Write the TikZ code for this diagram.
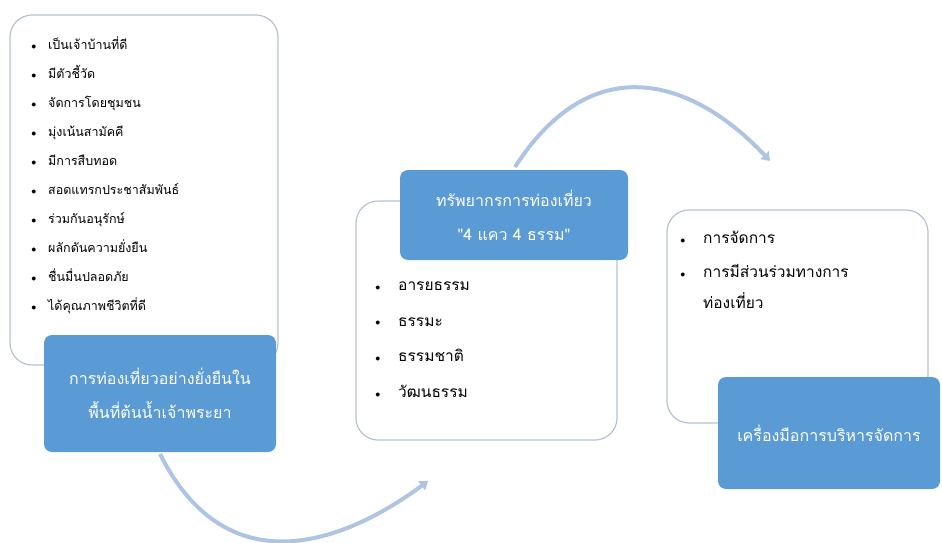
\documentclass[tikz,border=0pt]{standalone}
\usepackage{fontspec}
\newfontfamily\thai[Script=Thai]{Loma}
\usetikzlibrary{positioning, arrows.meta}
\definecolor{boxblue}{HTML}{5B9BD5}
\definecolor{flowblue}{HTML}{AEC4E3}
\definecolor{edgegray}{HTML}{B6C2D2}

\tikzset{
    panel/.style={draw=edgegray, line width=1.2pt, fill=white, rounded corners=22pt},
    titlebox/.style={fill=boxblue, rounded corners=8pt, text=white, align=center,
        font=\thai\fontsize{16}{34}\selectfont},
    itemtext/.style={anchor=west, inner sep=0pt, text height=0.75em, text depth=0.25em},
    dot/.style={label={[label distance=#1, font=\normalsize]left:$\bullet$}},
    item/.style={itemtext, dot=8pt, font=\thai\fontsize{12.5}{15}\selectfont},
    bigtext/.style={itemtext, font=\thai\fontsize{15.5}{18}\selectfont},
    bigitem/.style={bigtext, dot=14pt},
    flow/.style={draw=flowblue, line width=4pt, -{Triangle[length=8pt,width=11pt]}}
}

\begin{document}
\begin{tikzpicture}[x=1pt, y=-1pt]
    \useasboundingbox (0,0) rectangle (942,543);

    % white panels
    \node[panel, minimum width=268pt, minimum height=350pt] (leftpanel) at (144,190) {};
    \node[panel, minimum width=261pt, minimum height=239pt] (midpanel) at (486.5,320.5) {};
    \node[panel, minimum width=261pt, minimum height=213pt] (rightpanel) at (797.5,316.5) {};

    % list, left panel
    \foreach \txt [count=\i from 0] in {เป็นเจ้าบ้านที่ดี, มีตัวชี้วัด, จัดการโดยชุมชน,
        มุ่งเน้นสามัคคี, มีการสืบทอด, สอดแทรกประชาสัมพันธ์, ร่วมกันอนุรักษ์,
        ผลักดันความยั่งยืน, ชื่นมื่นปลอดภัย, ได้คุณภาพชีวิตที่ดี}
        \node[item] (left\i) at (48,47+29*\i) {\txt};

    % list, middle panel
    \foreach \txt [count=\i from 0] in {อารยธรรม, ธรรมะ, ธรรมชาติ, วัฒนธรรม}
        \node[bigitem] (mid\i) at (398,288+35.7*\i) {\txt};

    % list, right panel
    \node[bigitem] (right0) at (703,241) {การจัดการ};
    \node[bigitem] (right1) at (703,275) {การมีส่วนร่วมทางการ};
    \node[bigtext] (right2) at (703,306) {ท่องเที่ยว};

    % blue title boxes
    \node[titlebox, minimum width=232pt, minimum height=117pt] (tourism) at (160,393.5)
        {การท่องเที่ยวอย่างยั่งยืนใน\\พื้นที่ต้นน้ำเจ้าพระยา};
    \node[titlebox, minimum width=228pt, minimum height=90pt] (resource) at (514,215)
        {ทรัพยากรการท่องเที่ยว\\"4 แคว 4 ธรรม"};
    \node[titlebox, minimum width=222pt, minimum height=112pt] (tools) at (829,433)
        {เครื่องมือการบริหารจัดการ};

    % curved arrows
    \coordinate (a1s) at (160,454);
    \coordinate (a1e) at (428,481);
    \coordinate (a2s) at (515,167);
    \coordinate (a2e) at (770,161);
    \draw[flow] (a1s) .. controls (235,603) and (369,525) .. (a1e);
    \draw[flow] (a2s) .. controls (595,43) and (697,83) .. (a2e);
    %\draw[flow] (tourism.south) -- (midpanel.south west);
\end{tikzpicture}
\end{document}
